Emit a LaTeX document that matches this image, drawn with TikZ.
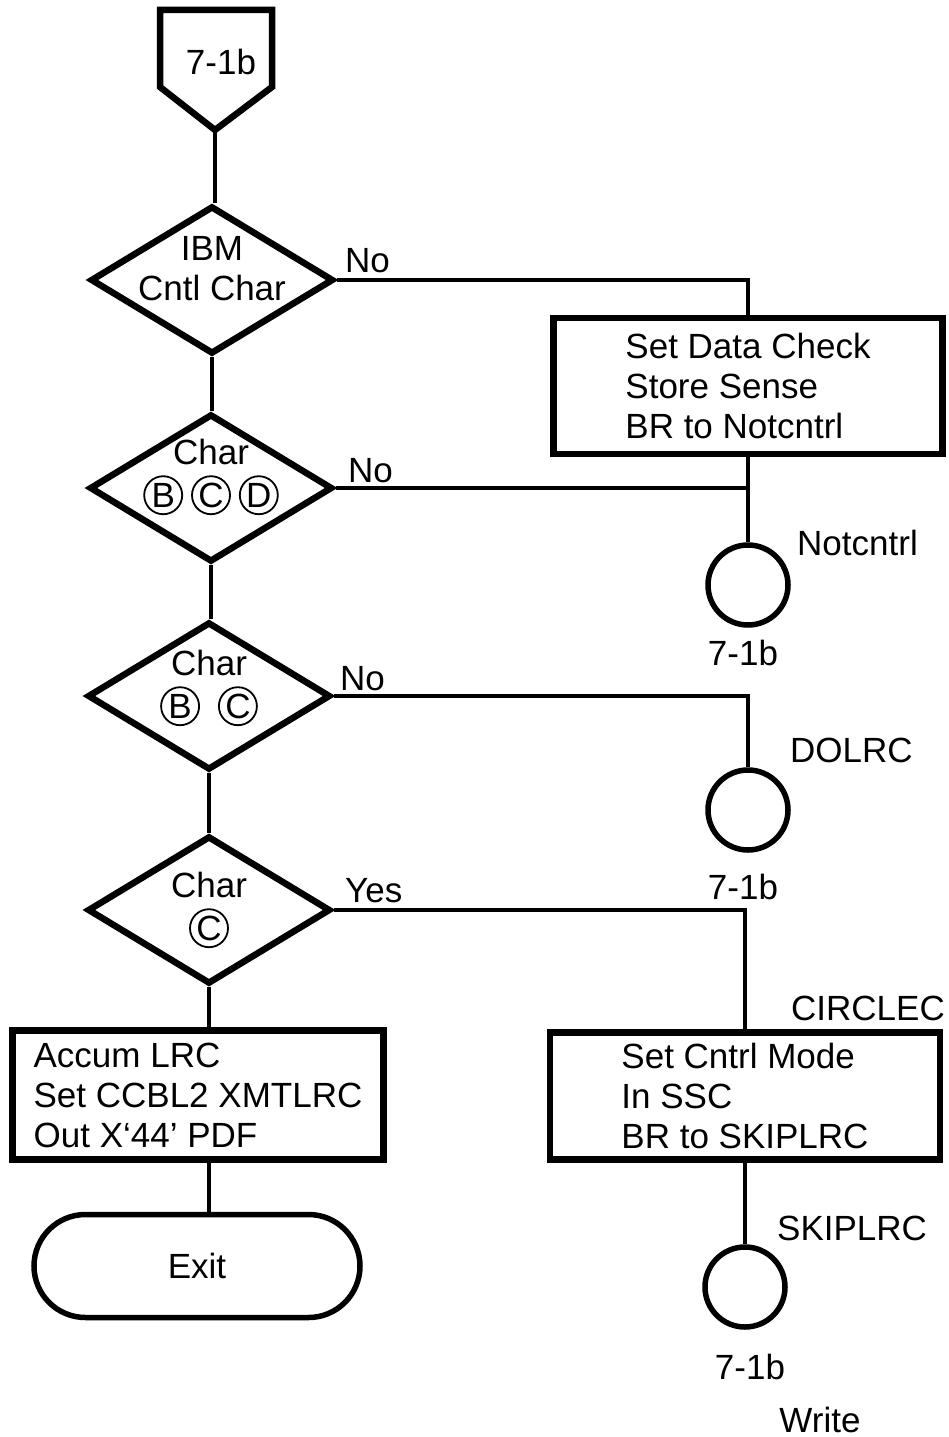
\documentclass[tikz,border=0pt]{standalone}
\usepackage{fontspec}
\setmainfont{Liberation Sans}
\usepackage{tikz}
\usetikzlibrary{calc,positioning,shapes.geometric,shapes.misc}

\newcommand{\ringed}[1]{\tikz[baseline=(ring.base)]\node[draw, circle, line width=1.8pt,
  inner sep=0pt, minimum size=38pt] (ring) {#1};}

\begin{document}
\begin{tikzpicture}[x=1pt, y=1pt,
    every node/.style={font=\fontsize{35}{40}\selectfont, inner sep=0pt},
    decide/.style={diamond, draw, line width=6.5pt, minimum width=243pt, minimum height=148pt},
    procbox/.style={rectangle, draw, line width=6.5pt, minimum width=389pt,
                    minimum height=136pt, align=left},
    pagecon/.style={circle, draw, line width=5.5pt, minimum size=80pt},
    termbox/.style={rounded rectangle, draw, line width=5.5pt, minimum width=326pt,
                    minimum height=103pt},
    wire/.style={line width=4.5pt},
    side/.style={anchor=base west}]
  \useasboundingbox (0,0) rectangle (949,-1437);

  % entry from 7-1b
  \node (entry) at (221,-62) {7-1b};
  \draw[line width=6.5pt] (160,-10) -- (272,-10) -- (272,-87) -- (215,-130) -- (160,-87) -- cycle;
  \coordinate (entrytip) at (215,-130);

  % decisions down the left
  \node[decide] (ibm) at (212,-280) {};
  \node[align=center] (ibmtxt) at (212,-269) {IBM\\Cntl Char};
  \node[decide] (bcd) at (211,-488) {};
  \node[align=center] (bcdtxt) at (211,-477)
    {Char\\[3pt]\ringed{B}\hspace{8pt}\ringed{C}\hspace{8pt}\ringed{D}};
  \node[decide] (bc) at (209,-696) {};
  \node[align=center] (bctxt) at (209,-688) {Char\\[3pt]\ringed{B}\hspace{18pt}\ringed{C}};
  \node[decide] (c) at (209,-910) {};
  \node[align=center] (ctxt) at (209,-910) {Char\\[3pt]\ringed{C}};

  \node[procbox, minimum width=371pt, minimum height=129pt] (acc) at (198,-1095)
    {Accum LRC\\Set CCBL2 XMTLRC\\Out X`44' PDF};
  \node[termbox] (exit) at (197,-1266) {Exit};

  % right column
  \node[procbox] (sdc) at (748,-386) {Set Data Check\\Store Sense\\BR to Notcntrl};
  \node[pagecon] (nc) at (748,-585) {};
  \node[pagecon] (dolrc) at (748,-810) {};
  \node[procbox, minimum width=390pt, minimum height=127pt] (scm) at (745,-1096)
    {Set Cntrl Mode\\In SSC\\BR to SKIPLRC};
  \node[pagecon] (skip) at (745,-1287) {};

  % labels
  \node[side] (no1) at (345,-272) {No};
  \node[side] (no2) at (348,-482) {No};
  \node[side] (no3) at (340,-690) {No};
  \node[side] (yes4) at (345,-902) {Yes};
  \node[side] (lnc) at (797,-555) {Notcntrl};
  \node[anchor=base] (pnc) at (743,-665) {7-1b};
  \node[side] (ldolrc) at (790,-762) {DOLRC};
  \node[anchor=base] (pdolrc) at (743,-899) {7-1b};
  \node[anchor=base east] (lcirc) at (945,-1020) {CIRCLEC};
  \node[side] (lskip) at (777,-1240) {SKIPLRC};
  \node[anchor=base] (pskip) at (750,-1379) {7-1b};
  \node[anchor=base] (write) at (820,-1432) {Write};

  % flow lines
  \draw[wire] (entrytip) -- (entrytip |- ibm.north);
  \draw[wire] (ibm.south) -- (ibm.south |- bcd.north);
  \draw[wire] (bcd.south) -- (bcd.south |- bc.north);
  \draw[wire] (bc.south) -- (c.north);
  \draw[wire] (c.south) -- (c.south |- acc.north);
  \draw[wire] (c.south |- acc.south) -- (c.south |- exit.north);
  \draw[wire] (ibm.east) -| (sdc.north);
  \draw[wire] (sdc.south) -- (nc.north);
  \draw[wire] (bcd.east) -- (bcd.east -| nc.north);
  \draw[wire] (bc.east) -| (dolrc.north);
  \draw[wire] (c.east) -| (scm.north);
  \draw[wire] (scm.south) -- (skip.north);
\end{tikzpicture}
\end{document}
